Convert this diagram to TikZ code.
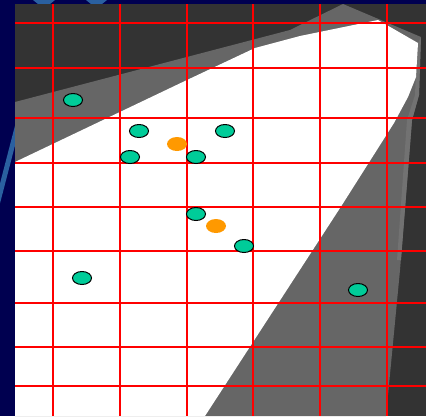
\documentclass[tikz,border=0pt]{standalone}
\usepackage{tikz}
\usetikzlibrary{shapes.geometric}
\definecolor{navyback}{RGB}{0,0,80}
\definecolor{swoosh}{RGB}{42,96,160}
\definecolor{shadow}{RGB}{51,51,51}
\definecolor{penumbra}{RGB}{102,102,102}
\definecolor{rim}{RGB}{114,114,114}
\definecolor{sensorgreen}{RGB}{0,204,153}
\definecolor{targetorange}{RGB}{255,153,0}

\begin{document}
\begin{tikzpicture}[
    x=1pt, y=-1pt,
    sensor/.style={ellipse, draw=black, line width=1pt, fill=sensorgreen, minimum width=19pt, minimum height=13pt, inner sep=0pt},
    target/.style={ellipse, fill=targetorange, minimum width=20pt, minimum height=14pt, inner sep=0pt},
    gridline/.style={red, line width=1.2pt}
]
\useasboundingbox (0,0) rectangle (426,416);

% Background
\fill[navyback] (0,0) rectangle (426,416);
\draw[swoosh, line width=5pt] (18,124) -- (-3,205);
\fill[swoosh] (33,0) -- (55,0) -- (50,4) -- (38,4) -- cycle;
\fill[swoosh] (86,0) -- (107,0) -- (102,4) -- (91,4) -- cycle;

% Shadow regions
\fill[shadow] (15,4) rectangle (426,416);
\fill[penumbra] (15,102) -- (290,30) -- (343,4) -- (421,37) -- (419,95) -- (412,120)
    -- (400,270) -- (386,416) -- (15,416) -- cycle;
\fill[rim] (421,37) -- (419,95) -- (412,120) -- (401,260) -- (397,260) -- (407,120)
    -- (415,95) -- (417,45) -- cycle;

% Lit region
\fill[white] (15,162) -- (187,80) -- (255,48) -- (300,36) -- (378,20) -- (418,43)
    -- (416,77) -- (408,97) -- (394,123) -- (342,205) -- (205,416) -- (15,416) -- cycle;

% Grid
\foreach \gx in {53,120,187,253,320,387}
    \draw[gridline] (\gx,4) -- (\gx,416);
\foreach \gy in {23,68,118,163,207,251,303,347,386}
    \draw[gridline] (15,\gy) -- (426,\gy);

% Sensors
\node[sensor] (s1) at (73,100) {};
\node[sensor] (s2) at (139,131) {};
\node[sensor] (s3) at (130,157) {};
\node[sensor] (s4) at (196,157) {};
\node[sensor] (s5) at (225,131) {};
\node[sensor] (s6) at (196,214) {};
\node[sensor] (s7) at (244,246) {};
\node[sensor] (s8) at (82,278) {};
\node[sensor] (s9) at (358,290) {};

% Targets
\node[target] (t1) at (177,144) {};
\node[target] (t2) at (216,226) {};
\end{tikzpicture}
\end{document}
